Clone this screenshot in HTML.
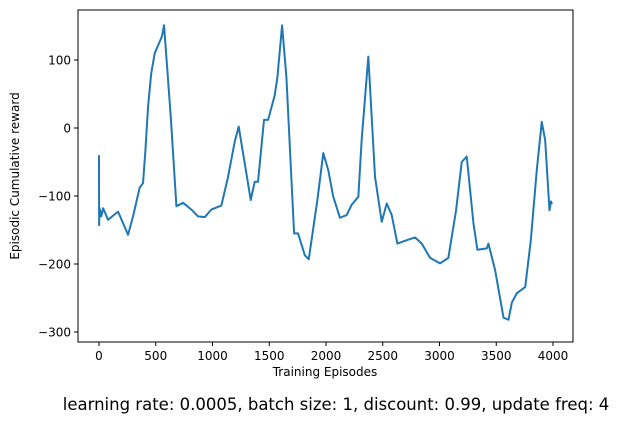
<!DOCTYPE html>
<html><head><meta charset="utf-8"><style>
body{margin:0;background:#fff;}
svg{display:block;font-family:"DejaVu Sans","Liberation Sans",sans-serif;}
</style></head><body>
<svg id="chart" width="621" height="423"></svg>
<script>
const episodes=[0,1,5,20,36,80,168,256,300,358,388,410,432,460,491,535,555,573,600,632,682,741,814,873,932,990,1078,1137,1196,1231,1284,1337,1372,1401,1454,1490,1548,1572,1613,1651,1719,1754,1813,1848,1924,1976,2020,2064,2123,2182,2226,2285,2314,2373,2432,2491,2535,2579,2629,2711,2785,2844,2917,3005,3078,3146,3196,3240,3299,3334,3417,3431,3490,3564,3608,3637,3681,3755,3804,3857,3901,3931,3969,3983,3990];
const rewards=[-40,-143,-118,-130,-118,-135,-123,-157,-130,-88,-81,-30,31,80,110,127,135,151,90,17,-115,-110,-120,-130,-131,-120,-114,-72,-20,2,-52,-106,-79,-79,12,12,48,75,151,75,-155,-155,-187,-193,-106,-37,-62,-101,-132,-128,-113,-101,-18,105,-72,-138,-111,-128,-170,-165,-161,-170,-191,-199,-191,-121,-50,-42,-140,-179,-177,-170,-209,-279,-282,-257,-243,-234,-166,-62,9,-18,-121,-108,-112];
const xTicks=[0,500,1000,1500,2000,2500,3000,3500,4000];
const yTicks=[100,0,-100,-200,-300];
const NS="http://www.w3.org/2000/svg";
const svg=document.getElementById('chart');
const L=78,R=573,T=10,B=342;
const xs=v=>99+v*0.1135;
const ys=v=>128-v*0.68;
function mk(t,a){const e=document.createElementNS(NS,t);for(const k in a)e.setAttribute(k,a[k]);svg.appendChild(e);return e;}
const frame=mk('rect',{x:L,y:T,width:R-L,height:B-T,fill:'none',stroke:'#000','stroke-width':1});


xTicks.forEach(v=>{
 const t=mk('line',{x1:xs(v),x2:xs(v),y1:B,y2:B+4,stroke:'#000'});
 
 
 const l=mk('text',{x:xs(v),y:B+18,'text-anchor':'middle','font-size':'12'});
 l.textContent=v;
 
 
});
yTicks.forEach(v=>{
 const t=mk('line',{x1:L-4,x2:L,y1:ys(v),y2:ys(v),stroke:'#000'});
 
 
 const l=mk('text',{x:L-7,y:ys(v)+4.5,'text-anchor':'end','font-size':'12'});
 l.textContent=v===0?'0':(v<0?'\u2212'+(-v):v);
 
 
});
const p=mk('polyline',{points:episodes.map((e,i)=>xs(e)+','+ys(rewards[i])).join(' '),fill:'none',stroke:'#1f77b4','stroke-width':2,'stroke-linejoin':'round'});


const xt=mk('text',{x:325,y:376,'text-anchor':'middle','font-size':'12'});
xt.textContent='Training Episodes';


const yt=mk('text',{x:19,y:176,'text-anchor':'middle','font-size':'12',transform:'rotate(-90 19 176)'});
yt.textContent='Episodic Cumulative reward';


const cap=mk('text',{x:336,y:410,'text-anchor':'middle','font-size':'16.5'});
cap.textContent='learning rate: 0.0005, batch size: 1, discount: 0.99, update freq: 4';


</script>
</body></html>
